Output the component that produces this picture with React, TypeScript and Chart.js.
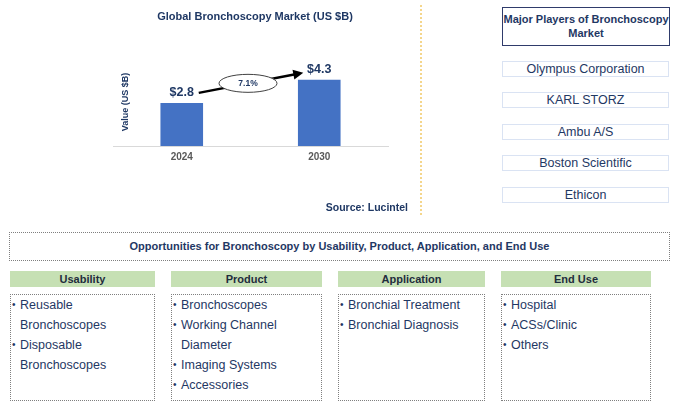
import React, { useEffect, useRef } from "react";
import { Chart, registerables } from "chart.js";
Chart.register(...registerables);

const years = ["2024", "2030"];
const marketValues = [2.8, 4.3];
const valueLabels = ["$2.8", "$4.3"];
const cagrLabel = "7.1%";
const chartTitle = "Global Bronchoscopy Market (US $B)";
const yAxisTitle = "Value (US $B)";
const sourceText = "Source: Lucintel";
const playersTitle = ["Major Players of Bronchoscopy", "Market"];
const players = ["Olympus Corporation", "KARL STORZ", "Ambu A/S", "Boston Scientific", "Ethicon"];
const opportunitiesTitle = "Opportunities for Bronchoscopy by Usability, Product, Application, and End Use";
const segmentNames = ["Usability", "Product", "Application", "End Use"];
const usabilityItems = ["Reusable\nBronchoscopes", "Disposable\nBronchoscopes"];
const productItems = ["Bronchoscopes", "Working Channel\nDiameter", "Imaging Systems", "Accessories"];
const applicationItems = ["Bronchial Treatment", "Bronchial Diagnosis"];
const endUseItems = ["Hospital", "ACSs/Clinic", "Others"];
const segmentItems = [usabilityItems, productItems, applicationItems, endUseItems];

const NAVY = "#1f3864";
const FONT = "'Liberation Sans', Arial, sans-serif";

const annotations = {
  id: "annotations",
  afterDatasetsDraw(chart: any) {
    const { ctx, chartArea } = chart;
    const meta = chart.getDatasetMeta(0);
    const bars = meta.data;
    ctx.save();
    // value labels
    ctx.fillStyle = NAVY;
    ctx.font = `bold 12.5px ${FONT}`;
    ctx.textAlign = "center";
    ctx.textBaseline = "middle";
    bars.forEach((b: any, i: number) => {
      ctx.fillText(valueLabels[i], b.x, b.y - 10);
    });
    // y axis title
    ctx.save();
    ctx.translate(chartArea.left + 13, 102);
    ctx.rotate(-Math.PI / 2);
    ctx.font = `bold 9px ${FONT}`;
    ctx.fillText(yAxisTitle, 0, 0);
    ctx.restore();
    // arrow
    const x0 = bars[0].x + 17, y0 = bars[0].y - 10;
    const x1 = bars[1].x - 16, y1 = bars[1].y - 7;
    const ang = Math.atan2(y1 - y0, x1 - x0);
    const hl = 10;
    ctx.strokeStyle = "#000";
    ctx.fillStyle = "#000";
    ctx.lineWidth = 2.5;
    ctx.beginPath();
    ctx.moveTo(x0, y0);
    ctx.lineTo(x1 - hl * 0.8 * Math.cos(ang), y1 - hl * 0.8 * Math.sin(ang));
    ctx.stroke();
    ctx.beginPath();
    ctx.moveTo(x1, y1);
    ctx.lineTo(x1 - hl * Math.cos(ang) + 5 * Math.sin(ang), y1 - hl * Math.sin(ang) - 5 * Math.cos(ang));
    ctx.lineTo(x1 - hl * Math.cos(ang) - 5 * Math.sin(ang), y1 - hl * Math.sin(ang) + 5 * Math.cos(ang));
    ctx.closePath();
    ctx.fill();
    // ellipse
    const cx = (x0 + x1) / 2 - 3, cy = (y0 + y1) / 2 + 0.5;
    ctx.beginPath();
    ctx.ellipse(cx, cy, 29, 9, 0, 0, Math.PI * 2);
    ctx.fillStyle = "#fff";
    ctx.fill();
    ctx.lineWidth = 1;
    ctx.strokeStyle = "#404040";
    ctx.stroke();
    ctx.fillStyle = NAVY;
    ctx.font = `bold 8.5px ${FONT}`;
    ctx.fillText(cagrLabel, cx, cy);
    ctx.restore();
  },
};

function BarChart() {
  const ref = useRef<HTMLCanvasElement>(null);
  useEffect(() => {
    if (!ref.current) return;
    const chart = new Chart(ref.current, {
      type: "bar",
      data: {
        labels: years,
        datasets: [
          {
            data: marketValues,
            backgroundColor: "#4472c4",
            barPercentage: 0.62,
            categoryPercentage: 0.5,
          },
        ],
      },
      options: {
        animation: false,
        responsive: false,
        devicePixelRatio: 1,
        layout: { padding: { left: 13, right: 32, top: 69, bottom: 54 } },
        plugins: { legend: { display: false }, tooltip: { enabled: false } },
        scales: {
          x: {
            afterFit: (s: any) => {
              s.height = 20;
            },
            grid: { display: false, drawTicks: false },
            border: { display: true, color: "#d9d9d9", width: 1 },
            ticks: { color: "#595959", font: { family: FONT, size: 10, weight: "bold" }, padding: 5 },
          },
          y: { display: false, min: 0, max: 5 },
        },
      },
      plugins: [annotations],
    } as any);
    return () => chart.destroy();
  }, []);
  return <canvas ref={ref} width={320} height={220} style={{ width: 320, height: 220, display: "block" }} />;
}

const abs = (l: number, t: number, w: number, h: number): React.CSSProperties => ({
  position: "absolute",
  left: l,
  top: t,
  width: w,
  height: h,
  boxSizing: "border-box",
});

const colX = [10, 171, 338, 501];
const colW = [145, 151, 147, 150];
const playerTops = [61, 92, 124, 155, 187];

export default function App() {
  return (
    <div style={{ position: "fixed", left: 0, top: 0, width: 679, height: 409, background: "#fff", fontFamily: FONT, color: NAVY, overflow: "hidden" }}>
      <div style={{ ...abs(100, 0, 320, 220) }}>
        <BarChart />
      </div>
      <div style={{ ...abs(100, 8, 310, 16), textAlign: "center", fontWeight: "bold", fontSize: 11, lineHeight: "16px" }}>{chartTitle}</div>
      <div style={{ ...abs(250, 199, 158, 16), textAlign: "right", fontWeight: "bold", fontSize: 10.5, lineHeight: "16px" }}>{sourceText}</div>
      <div style={{ ...abs(420, 5, 2, 210), borderLeft: "2px dotted #f4d68c" }} />

      <div style={{ ...abs(502, 7, 168, 39), border: "1.5px solid #2f3b6b", textAlign: "center", fontWeight: "bold", fontSize: 11, lineHeight: "14px", paddingTop: 4, whiteSpace: "nowrap" }}>
        {playersTitle.map((t, i) => (
          <div key={i}>{t}</div>
        ))}
      </div>
      {players.map((p, i) => (
        <div key={p} style={{ ...abs(502, playerTops[i], 167, 16), border: "1px solid #dae3f3", textAlign: "center", fontSize: 12.5, lineHeight: "14px" }}>
          {p}
        </div>
      ))}

      <div style={{ ...abs(9, 232, 661, 29), border: "1px dotted #7f7f7f", textAlign: "center", fontWeight: "bold", fontSize: 11, lineHeight: "27px" }}>
        {opportunitiesTitle}
      </div>
      {segmentNames.map((n, i) => (
        <div key={n} style={{ ...abs(colX[i], 271, colW[i], 16), background: "#c6e0b4", textAlign: "center", fontWeight: "bold", fontSize: 11, lineHeight: "16px", color: "#1f2d3d" }}>
          {n}
        </div>
      ))}
      {segmentItems.map((items, i) => (
        <div key={i} style={{ ...abs(colX[i], 294, colW[i], 107), border: "1px dotted #7f7f7f", fontSize: 12.5, lineHeight: "20px", paddingTop: 0 }}>
          {items.map((it, j) => (
            <div key={j} style={{ position: "relative", paddingLeft: 9, whiteSpace: "pre-line" }}>
              <span style={{ position: "absolute", left: 1, top: 0, fontSize: 10 }}>•</span>
              {it}
            </div>
          ))}
        </div>
      ))}
    </div>
  );
}
